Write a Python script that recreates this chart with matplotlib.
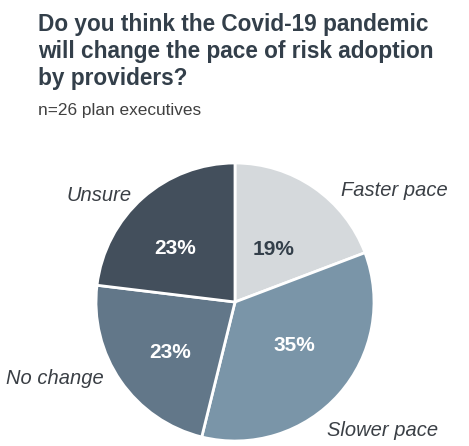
import matplotlib
matplotlib.use("Agg")
import matplotlib.pyplot as plt
import numpy as np

plt.rcParams['font.family'] = ['Liberation Sans', 'DejaVu Sans']

categories = ['Faster pace', 'Slower pace', 'No change', 'Unsure']
counts = [5, 9, 6, 6]  # n=26
pct_labels = ['19%', '35%', '23%', '23%']
slice_colors = ['#d5d9dc', '#7a95a8', '#627789', '#434f5c']
pct_colors = ['#333f4a', 'white', 'white', 'white']

title = 'Do you think the Covid-19 pandemic\nwill change the pace of risk adoption\nby providers?'
subtitle = 'n=26 plan executives'

# placement (radius multiple, angle in degrees) per slice
label_pos = [(1.40, 35), (1.41, -41), (1.41, 203), (1.24, 142)]
pct_pos = [(0.47, 54), (0.53, -36), (0.59, 218), (0.58, 138)]

W, H = 469, 446
fig = plt.figure(figsize=(W / 100, H / 100), dpi=100)

cx, cy, r = 235, 302, 139
ax = fig.add_axes([(cx - r) / W, (H - cy - r) / H, 2 * r / W, 2 * r / H])

wedges, _ = ax.pie(counts, colors=slice_colors, startangle=90, counterclock=False,
                   radius=1, wedgeprops=dict(edgecolor='white', linewidth=2))

ax.set_xlim(-1, 1)
ax.set_ylim(-1, 1)
ax.set_aspect('equal')
ax.axis('off')

for pl, pc, cat, (pd_, pa), (d, a) in zip(pct_labels, pct_colors, categories, pct_pos, label_pos):
    t = np.deg2rad(pa)
    ax.text(pd_ * np.cos(t), pd_ * np.sin(t), pl, ha='center', va='center',
            fontsize=15, fontweight='bold', color=pc)
    t = np.deg2rad(a)
    ax.text(d * np.cos(t), d * np.sin(t), cat, ha='center', va='center',
            fontsize=14.5, style='italic', color='#3a3f45')

fig.text(38 / W, 1 - 13 / H, title, ha='left', va='top', fontsize=16.3,
         fontweight='bold', color='#333f4a', linespacing=1.22)
fig.text(38 / W, 1 - 110 / H, subtitle, ha='left', va='center', fontsize=12.4,
         color='#404040')

fig.savefig('out.png', dpi=100, facecolor='white')
